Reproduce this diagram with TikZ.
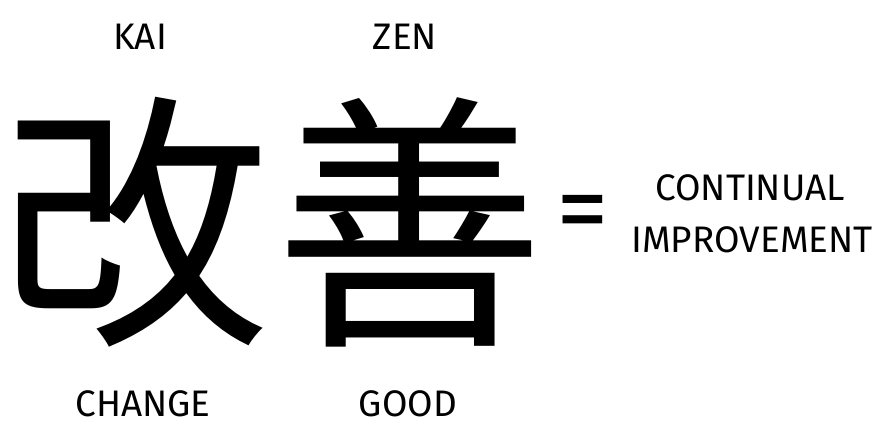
\documentclass[tikz,border=0pt]{standalone}
\usepackage{fontspec}
\setmainfont{Fira Sans}
\newfontfamily\cjk{Noto Sans CJK JP}
\usetikzlibrary{positioning}

\begin{document}
\begin{tikzpicture}[
    kanji/.style={inner sep=0pt, font=\cjk\fontsize{77}{77}\selectfont},
    word/.style={inner sep=0pt, font=\fontsize{10.5}{12}\selectfont},
    eq/.style={inner sep=0pt, font=\fontsize{30}{30}\selectfont}]
    \useasboundingbox (0,0) rectangle (8.78,4.23);

    % The two characters
    \node[kanji] (kai) at (1.35,2.01) {改};
    \node[kanji] (zen) at (4.10,2.01) {善};

    % Readings above
    \node[word] (kairead) at (1.40,3.86) {KAI};
    \node[word] (zenread) at (4.05,3.86) {ZEN};

    % Meanings below
    \node[word] (change) at (1.43,0.19) {CHANGE};
    \node[word] (good) at (4.08,0.19) {GOOD};

    % Result
    \node[eq] (equals) at (5.83,2.03) {=};
    \node[word] (continual) at (7.50,2.35) {CONTINUAL};
    \node[word] (improve) at (7.52,1.83) {IMPROVEMENT};
\end{tikzpicture}
\end{document}
